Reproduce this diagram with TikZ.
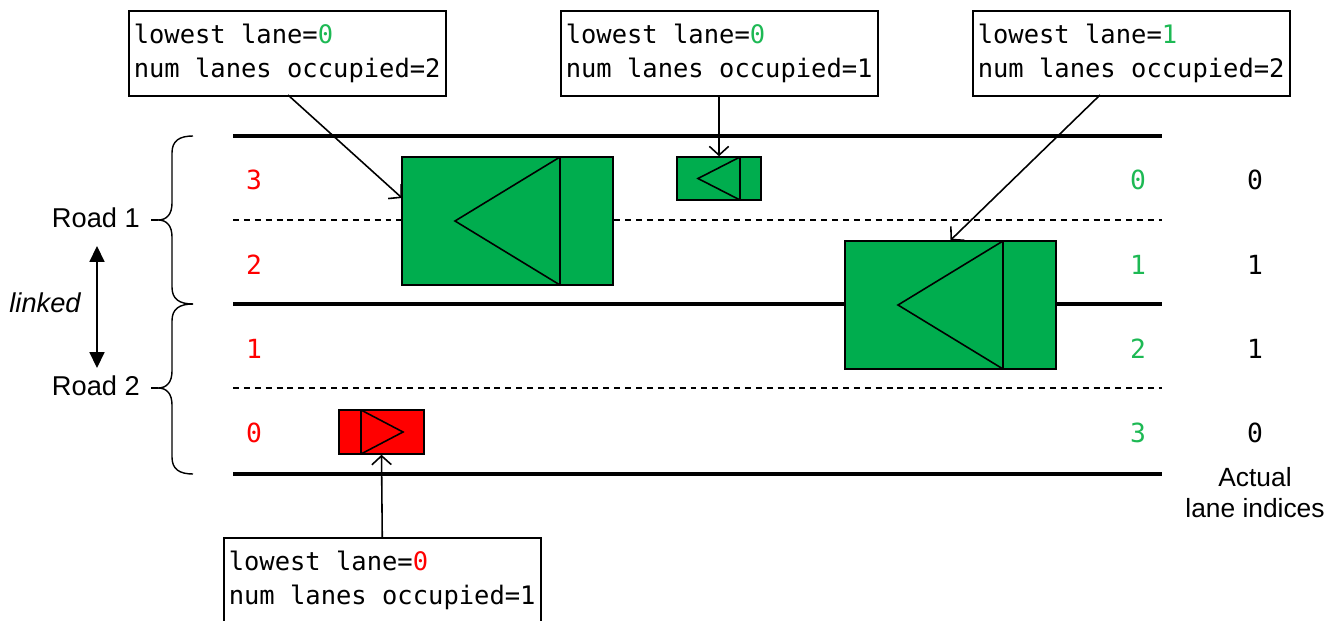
\documentclass[tikz,border=0pt]{standalone}
\usepackage{fontspec}
\setmainfont{Liberation Sans}
\newfontfamily\monofont{DejaVu Sans Mono}
\newcommand\msp{\hphantom{0}}
\usetikzlibrary{arrows.meta,calc}
\definecolor{cargreen}{HTML}{00AD4E}
\definecolor{txtgreen}{HTML}{1DB954}
\definecolor{carred}{HTML}{FF0000}
\begin{document}
\begin{tikzpicture}[x=0.02cm,y=-0.02cm,
  road/.style={line width=2.3pt},
  lanesep/.style={line width=1.1pt, dash pattern=on 3.4pt off 2.8pt},
  infobox/.style={draw, line width=0.9pt, fill=white, anchor=north west,
    minimum height=1.7cm, inner xsep=0.1cm, inner ysep=0pt, text width=6.14cm, align=left,
    font=\monofont\fontsize{14.5}{19.3}\selectfont},
  car/.style={draw, line width=0.9pt, fill=cargreen, inner sep=0pt},
  carline/.style={line width=0.9pt, line join=miter},
  lanenum/.style={font=\monofont\fontsize{15}{18}\selectfont},
  arr/.style={line width=0.9pt, -{Straight Barb[length=5pt,width=11pt,line width=0.9pt]}},
  lbl/.style={font=\fontsize{15.5}{18}\selectfont},
  brace/.style={line width=0.8pt}
]
\useasboundingbox (0,0) rectangle (1341,621);

% roads
\coordinate (r1a) at (233,136); \coordinate (r1b) at (1162,136);
\coordinate (r2a) at (233,304); \coordinate (r2b) at (1162,304);
\coordinate (r3a) at (233,474); \coordinate (r3b) at (1162,474);
\coordinate (d1a) at (233,220); \coordinate (d1b) at (1162,220);
\coordinate (d2a) at (233,388); \coordinate (d2b) at (1162,388);
\draw[lanesep] (d1a) -- (d1b);
\draw[lanesep] (d2a) -- (d2b);
\draw[road] (r1a) -- (r1b);
\draw[road] (r2a) -- (r2b);
\draw[road] (r3a) -- (r3b);

% lane numbers
\node[lanenum, text=carred] (rl3) at (254,180) {3};
\node[lanenum, text=carred] (rl2) at (254,265) {2};
\node[lanenum, text=carred] (rl1) at (254,349) {1};
\node[lanenum, text=carred] (rl0) at (254,433) {0};
\node[lanenum, text=txtgreen] (gl0) at (1138,180) {0};
\node[lanenum, text=txtgreen] (gl1) at (1138,265) {1};
\node[lanenum, text=txtgreen] (gl2) at (1138,349) {2};
\node[lanenum, text=txtgreen] (gl3) at (1138,433) {3};
\node[lanenum] (al0) at (1255,180) {0};
\node[lanenum] (al1) at (1255,265) {1};
\node[lanenum] (al2) at (1255,349) {1};
\node[lanenum] (al3) at (1255,433) {0};
\node[align=center, font=\fontsize{15}{17.6}\selectfont] (actual) at (1255,493) {Actual\\lane indices};

% cars
\node[car, minimum width=4.22cm, minimum height=2.56cm] (carA) at (507.5,221) {};
\draw[carline] (560,157) -- (560,285);
\draw[carline] (560,157) -- (455,221) -- (560,285);
\node[car, minimum width=1.68cm, minimum height=0.86cm] (carB) at (719,178.5) {};
\draw[carline] (740,157) -- (740,200);
\draw[carline] (740,157) -- (698,178.5) -- (740,200);
\node[car, minimum width=4.22cm, minimum height=2.56cm] (carC) at (950.5,305) {};
\draw[carline] (1003,241) -- (1003,369);
\draw[carline] (1003,241) -- (898,305) -- (1003,369);
\node[car, fill=carred, minimum width=1.7cm, minimum height=0.88cm] (carD) at (381.5,432) {};
\draw[carline] (361,410) -- (361,454);
\draw[carline] (361,410) -- (403,432) -- (361,454);

% info boxes
\node[infobox] (b1) at (128,10) {lowest\msp lane=\textcolor{txtgreen}{0}\\num\msp lanes\msp occupied=2};
\node[infobox] (b2) at (560,10) {lowest\msp lane=\textcolor{txtgreen}{0}\\num\msp lanes\msp occupied=1};
\node[infobox] (b3) at (972,10) {lowest\msp lane=\textcolor{txtgreen}{1}\\num\msp lanes\msp occupied=2};
\node[infobox] (b4) at (223,537) {lowest\msp lane=\textcolor{carred}{0}\\num\msp lanes\msp occupied=1};

\coordinate (b1o) at (288,95);
\coordinate (carAin) at (402,198);
\coordinate (b3o) at (1100,95);
\draw[arr] (b1o) -- (carAin);
\draw[arr] (b2.south -| carB.north) -- (carB.north);
\draw[arr] (b3o) -- (carC.north);
\draw[arr] (b4.north) -- (carD.south);

% braces and road labels
\draw[brace] (193,136) .. controls (179,136) and (172,141) .. (172,153) -- (172,203)
  .. controls (172,214) and (167,220) .. (158,220)
  .. controls (167,220) and (172,226) .. (172,237) -- (172,287)
  .. controls (172,299) and (179,304) .. (193,304);
\draw[brace] (193,304) .. controls (179,304) and (172,309) .. (172,321) -- (172,371)
  .. controls (172,382) and (167,388) .. (158,388)
  .. controls (167,388) and (172,394) .. (172,405) -- (172,457)
  .. controls (172,469) and (179,474) .. (193,474);
\coordinate (s1a) at (151,220); \coordinate (s1b) at (158,220);
\coordinate (s2a) at (151,388); \coordinate (s2b) at (158,388);
\draw[brace] (s1a) -- (s1b);
\draw[brace] (s2a) -- (s2b);
\node[lbl, anchor=east] (road1) at (146,218) {Road 1};
\node[lbl, anchor=east] (road2) at (146,386) {Road 2};
\node[lbl, font=\fontsize{15.5}{18}\selectfont\itshape] (linked) at (45,303) {linked};
\coordinate (lk1) at (97,246);
\coordinate (lk2) at (97,368);
\draw[line width=0.9pt, {Triangle[length=9pt,width=8.5pt]}-{Triangle[length=9pt,width=8.5pt]}] (lk1) -- (lk2);
\end{tikzpicture}
\end{document}
